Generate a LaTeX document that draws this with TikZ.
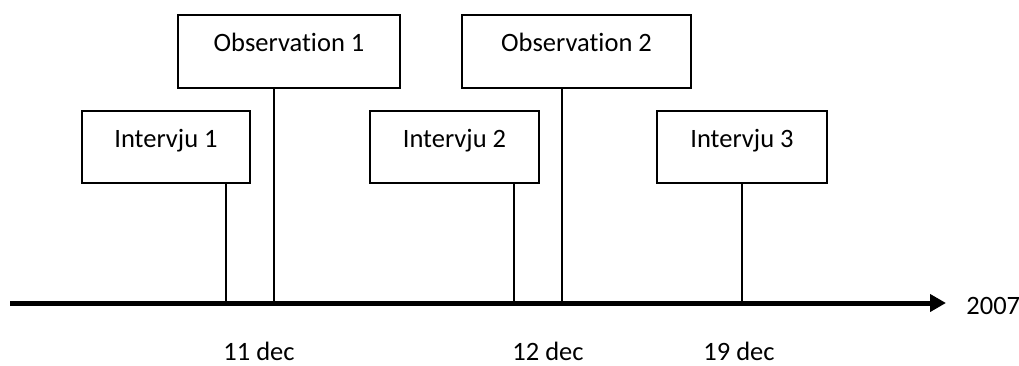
\documentclass[tikz,border=0pt]{standalone}
\usepackage{fontspec}
\setmainfont{Carlito}[RawFeature=-liga]
\usetikzlibrary{arrows.meta}
\begin{document}
\begin{tikzpicture}[x=0.5pt,y=-0.5pt,
  txt/.style={font=\fontsize{13.25}{16}\selectfont,inner sep=0pt},
  boite/.style={txt,draw,line width=1pt,text height=9pt,text depth=9pt}]
\useasboundingbox (0,0) rectangle (1019,365);%cadre de l'image
\def\yaxe{303}%hauteur de l'axe
\coordinate (a0) at (10,\yaxe);%debut de l'axe
\coordinate (a1) at (946,\yaxe);%fin de l'axe
\draw[line width=2.5pt,-{Triangle[length=8pt,width=8.5pt]}] (a0) -- (a1);
\node[txt,anchor=base west] (annee) at (966,314){2007};
\node[boite,minimum width=111pt,minimum height=36.5pt] (o1) at (289,51.5){Observation 1};
\node[boite,minimum width=114.5pt,minimum height=36.5pt] (o2) at (576.5,51.5){Observation 2};
\node[boite,minimum width=84pt,minimum height=36pt] (i1) at (166,147){Intervju 1};
\node[boite,minimum width=84.5pt,minimum height=36pt] (i2) at (454.5,147){Intervju 2};
\node[boite,minimum width=85pt,minimum height=36pt] (i3) at (742,147){Intervju 3};
\coordinate (t1) at (226,\yaxe);%intervju 1
\coordinate (t2) at (274,\yaxe);%observation 1
\coordinate (t3) at (514,\yaxe);%intervju 2
\coordinate (t4) at (562,\yaxe);%observation 2
\coordinate (t5) at (742,\yaxe);%intervju 3
\draw[line width=1pt] (t1) -- (t1 |- i1.south);
\draw[line width=1pt] (t2) -- (t2 |- o1.south);
\draw[line width=1pt] (t3) -- (t3 |- i2.south);
\draw[line width=1pt] (t4) -- (t4 |- o2.south);
\draw[line width=1pt] (t5) -- (t5 |- i3.south);
\node[txt,anchor=base west] (d1) at (223,360){11 dec};
\node[txt,anchor=base west] (d2) at (512,360){12 dec};
\node[txt,anchor=base west] (d3) at (703,360){19 dec};
\end{tikzpicture}
\end{document}
